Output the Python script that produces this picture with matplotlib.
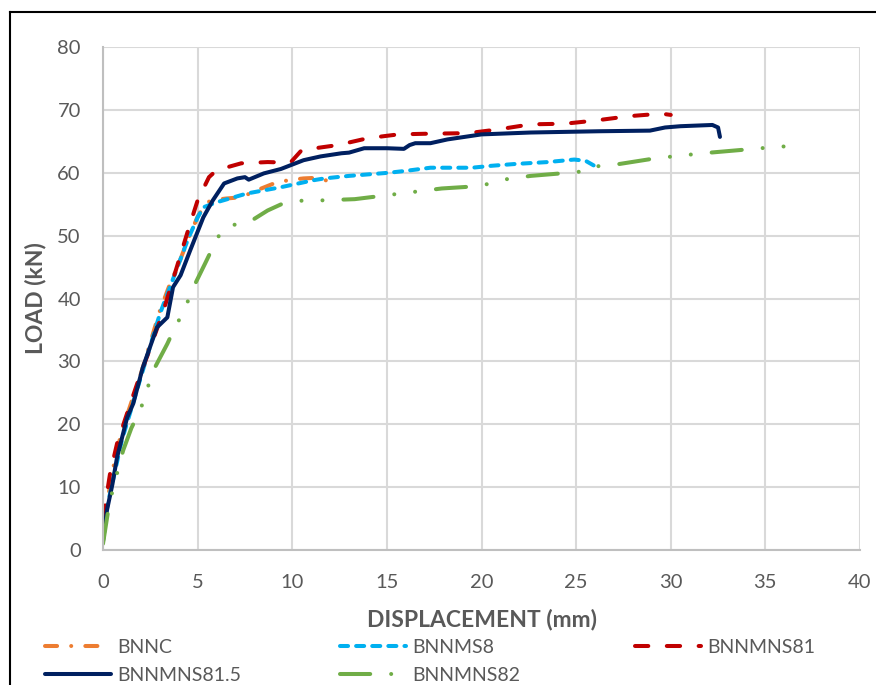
import matplotlib
matplotlib.use("Agg")
import matplotlib.pyplot as plt
from matplotlib.lines import Line2D

# ── load-displacement curves (mm, kN) ────────────────────────────────────────
bnnc_x = [0, 0.3, 0.6, 1.0, 1.5, 2.0, 2.5, 3.0, 3.5, 4.0, 4.5, 5.0, 5.4, 5.7,
          6.5, 7.3, 8.2, 9.2, 10.0, 10.6, 11.3, 12.0, 12.2]
bnnc_y = [3, 9, 14, 19, 23.5, 28, 33, 38, 42, 45.5, 49.5, 53, 55, 55.6,
          55.9, 56.1, 57.3, 58.5, 58.9, 59.1, 59.2, 58.6, 57.5]

bnnms8_x = [0, 0.3, 0.64, 1.0, 1.5, 2.0, 2.5, 3.0, 3.5, 4.0, 4.5, 5.0, 5.3, 6.0,
            7.6, 9.4, 11.1, 11.7, 13.0, 15.1, 16.0, 17.3, 19.5, 20.5, 21.8,
            23.5, 24.9, 25.5, 26.2]
bnnms8_y = [3.5, 8, 12.6, 17.5, 22.5, 27.5, 32.5, 37.5, 41.5, 45.5, 49.5, 52.9,
            54.5, 55.3, 56.7, 57.7, 58.8, 59.1, 59.5, 60.0, 60.3, 60.8, 60.8,
            61.1, 61.4, 61.7, 62.1, 61.9, 60.7]

bnnmns81_x = [0, 0.37, 0.74, 1.27, 1.8, 2.5, 3.2, 3.9, 4.45, 5.0, 5.6, 6.0, 7.3,
              8.7, 9.9, 10.5, 12.4, 14.0, 15.6, 17.0, 19.3, 20.9, 22.6, 24.4,
              26.0, 27.8, 29.5, 30.0]
bnnmns81_y = [5, 12.1, 16.9, 21.7, 26.4, 32.2, 38.1, 45, 50.4, 55.6, 59.3, 60.4,
              61.5, 61.7, 61.6, 63.6, 64.4, 65.5, 66.1, 66.2, 66.3, 66.9, 67.7,
              67.8, 68.3, 69.0, 69.4, 69.2]

bnnmns815_x = [0, 0.2, 0.5, 0.74, 1.27, 1.6, 2.1, 2.85, 3.4, 3.7, 4.1, 4.6, 5.3,
               5.8, 6.4, 7.1, 7.5, 7.7, 8.5, 9.4, 10.6, 11.5, 12.6, 13.0, 13.8,
               15.0, 15.9, 16.2, 16.5, 17.3, 18.2, 20.0, 22.6, 26.2, 28.9, 29.7,
               30.5, 32.2, 32.5, 32.6]
bnnmns815_y = [1.4, 6.2, 10.5, 14.7, 21, 23.3, 29, 35.4, 37, 41.8, 43.7, 47.6,
               52.9, 55.6, 58.3, 59.1, 59.3, 58.9, 59.9, 60.6, 62.0, 62.6, 63.1,
               63.2, 63.9, 63.9, 63.8, 64.4, 64.7, 64.7, 65.3, 66.1, 66.4, 66.6,
               66.7, 67.2, 67.4, 67.6, 67.2, 65.7]

bnnmns82_x = [0, 0.27, 0.5, 1.06, 1.5, 2.0, 2.65, 3.4, 3.8, 4.3, 4.7, 5.4, 5.8,
              6.3, 7.1, 7.8, 8.7, 9.5, 10.6, 11.5, 13.3, 15.2, 17.9, 20.0, 20.9,
              22.6, 24.6, 25.3, 25.7, 27.3, 29.2, 31.7, 34.0, 35.9, 36.4, 36.6]
bnnmns82_y = [1, 6.2, 9.4, 15.8, 19.4, 22.5, 28.5, 32.8, 35.4, 38.1, 41.3, 45.6,
              48.1, 51.0, 51.9, 52.3, 54.0, 55.1, 55.6, 55.6, 55.8, 56.5, 57.5,
              57.9, 58.8, 59.5, 60.0, 60.2, 60.9, 61.4, 62.3, 63.1, 63.7, 64.2,
              64.0, 63.4]

x_ticks = [0, 5, 10, 15, 20, 25, 30, 35, 40]
y_ticks = [0, 10, 20, 30, 40, 50, 60, 70, 80]

# label, x, y, colour, dash pattern (None = solid)
series = [
    ("BNNC",       bnnc_x,      bnnc_y,      "#ED7D31", (3, 3.5, 0.01, 3.5)),
    ("BNNMS8",     bnnms8_x,    bnnms8_y,    "#00B0F0", (2, 2)),
    ("BNNMNS81",   bnnmns81_x,  bnnmns81_y,  "#C00000", (3.3, 4.6)),
    ("BNNMNS81.5", bnnmns815_x, bnnmns815_y, "#002060", None),
    ("BNNMNS82",   bnnmns82_x,  bnnmns82_y,  "#70AD47", (7.5, 5.2, 0.01, 5.2, 0.01, 5.2)),
]

GREY = "#595959"
plt.rcParams["font.family"] = ["Lato", "DejaVu Sans"]

fig = plt.figure(figsize=(8.76, 6.85), dpi=100)
ax = fig.add_axes([103 / 876, 1 - 550 / 685, 757 / 876, 503 / 685])

handles = {}
for label, xs, ys, col, dash in series:
    ln, = ax.plot(xs, ys, color=col, lw=2.9, label=label,
                  solid_capstyle="round", solid_joinstyle="round",
                  dash_capstyle="round", dash_joinstyle="round")
    if dash is not None:
        ln.set_dashes(dash)
    handles[label] = ln

ax.set_xlim(0, 40)
ax.set_ylim(0, 80)
ax.set_xticks(x_ticks)
ax.set_yticks(y_ticks)
ax.grid(True, color="#D9D9D9", lw=1.5)
ax.set_axisbelow(True)
ax.tick_params(length=0, labelsize=14.5, labelcolor=GREY)
ax.tick_params(axis="y", pad=16)
ax.tick_params(axis="x", pad=17)
for side in ("top", "right"):
    ax.spines[side].set_visible(False)
for side in ("left", "bottom"):
    ax.spines[side].set_color("#BFBFBF")
    ax.spines[side].set_linewidth(1.5)

fig.text(35 / 876, 1 - 298 / 685, "LOAD (kN)", rotation=90, ha="center",
         va="center", fontsize=16.5, fontweight="bold", color=GREY)
fig.text(482 / 876, 1 - 620 / 685, "DISPLACEMENT (mm)", ha="center",
         va="center", fontsize=16.5, fontweight="bold", color=GREY)

# legend in equal-width columns, filled row by row
columns = [(45, ["BNNC", "BNNMNS81.5"]),
           (340, ["BNNMS8", "BNNMNS82"]),
           (635, ["BNNMNS81"])]
for x0, labels in columns:
    leg = fig.legend([handles[k] for k in labels], labels,
                     loc="upper left", bbox_to_anchor=(x0 / 876, 1 - 639 / 685),
                     frameon=False, fontsize=14, handlelength=3.4,
                     handletextpad=0.3, labelspacing=0.55,
                     borderpad=0, borderaxespad=0)
    for t in leg.get_texts():
        t.set_color(GREY)

# outer chart border
fig.add_artist(Line2D([10 / 876, 10 / 876], [0, 1 - 12 / 685],
                      transform=fig.transFigure, color="black", lw=1.5))
fig.add_artist(Line2D([10 / 876, 1], [1 - 12 / 685, 1 - 12 / 685],
                      transform=fig.transFigure, color="black", lw=1.5))

fig.savefig("out.png", dpi=100)
